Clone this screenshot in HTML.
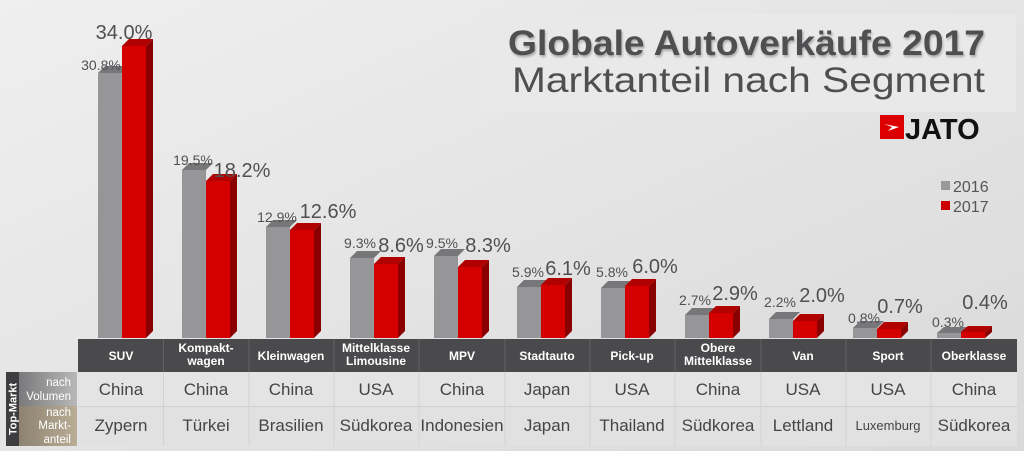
<!DOCTYPE html>
<html><head><meta charset="utf-8"><style>
body{margin:0;width:1024px;height:451px;overflow:hidden;font-family:"Liberation Sans",sans-serif}
</style></head><body>
<svg width="1024" height="451" viewBox="0 0 1024 451" xmlns="http://www.w3.org/2000/svg" font-family="Liberation Sans, sans-serif">
<defs>
<linearGradient id="bg" x1="0" y1="0" x2="1" y2="1"><stop offset="0" stop-color="#efefef"/><stop offset="1" stop-color="#d9d9d9"/></linearGradient>
<linearGradient id="vol" x1="0" y1="0" x2="1" y2="0"><stop offset="0" stop-color="#7a7a7c"/><stop offset="1" stop-color="#b8b8b8"/></linearGradient>
<linearGradient id="ma" x1="0" y1="0" x2="1" y2="0"><stop offset="0" stop-color="#8d8270"/><stop offset="1" stop-color="#b9ad96"/></linearGradient>
</defs>
<rect width="1024" height="451" fill="url(#bg)"/>
<rect x="480" y="14" width="536" height="98" fill="#e9e9e9"/>
<text x="985" y="55" text-anchor="end" font-size="35" font-weight="bold" fill="#4f4f52" textLength="477" lengthAdjust="spacingAndGlyphs" style="text-shadow:1px 2px 2px #aaa">Globale Autoverkäufe 2017</text>
<text x="985" y="92" text-anchor="end" font-size="35" fill="#4f4f52" textLength="473" lengthAdjust="spacingAndGlyphs">Marktanteil nach Segment</text>
<rect x="880" y="115" width="24" height="24" fill="#d00"/>
<polygon points="884,124 899,127 888,131 892,127" fill="#fff"/>
<text x="905" y="139" font-size="29" font-weight="bold" fill="#111">JATO</text>
<rect x="941" y="181" width="9" height="9" fill="#999"/>
<text x="953" y="192" font-size="16" fill="#555">2016</text>
<rect x="941" y="201" width="9" height="9" fill="#c00"/>
<text x="953" y="212" font-size="16" fill="#555">2017</text>

<g>
<rect x="98" y="73" width="24" height="265" fill="#969698"/><polygon points="98,73 105,66 129,66 122,73" fill="#77777a"/>
<rect x="122" y="46" width="24" height="292" fill="#d40000"/><polygon points="122,46 129,39 153,39 146,46" fill="#b00000"/><polygon points="146,46 153,39 153,331 146,338" fill="#8a0000"/>
<rect x="182" y="170" width="24" height="168" fill="#969698"/><polygon points="182,170 189,163 213,163 206,170" fill="#77777a"/>
<rect x="206" y="181" width="24" height="157" fill="#d40000"/><polygon points="206,181 213,174 237,174 230,181" fill="#b00000"/><polygon points="230,181 237,174 237,331 230,338" fill="#8a0000"/>
<rect x="266" y="227" width="24" height="111" fill="#969698"/><polygon points="266,227 273,220 297,220 290,227" fill="#77777a"/>
<rect x="290" y="230" width="24" height="108" fill="#d40000"/><polygon points="290,230 297,223 321,223 314,230" fill="#b00000"/><polygon points="314,230 321,223 321,331 314,338" fill="#8a0000"/>
<rect x="350" y="258" width="24" height="80" fill="#969698"/><polygon points="350,258 357,251 381,251 374,258" fill="#77777a"/>
<rect x="374" y="264" width="24" height="74" fill="#d40000"/><polygon points="374,264 381,257 405,257 398,264" fill="#b00000"/><polygon points="398,264 405,257 405,331 398,338" fill="#8a0000"/>
<rect x="434" y="256" width="24" height="82" fill="#969698"/><polygon points="434,256 441,249 465,249 458,256" fill="#77777a"/>
<rect x="458" y="267" width="24" height="71" fill="#d40000"/><polygon points="458,267 465,260 489,260 482,267" fill="#b00000"/><polygon points="482,267 489,260 489,331 482,338" fill="#8a0000"/>
<rect x="517" y="287" width="24" height="51" fill="#969698"/><polygon points="517,287 524,280 548,280 541,287" fill="#77777a"/>
<rect x="541" y="285" width="24" height="53" fill="#d40000"/><polygon points="541,285 548,278 572,278 565,285" fill="#b00000"/><polygon points="565,285 572,278 572,331 565,338" fill="#8a0000"/>
<rect x="601" y="288" width="24" height="50" fill="#969698"/><polygon points="601,288 608,281 632,281 625,288" fill="#77777a"/>
<rect x="625" y="286" width="24" height="52" fill="#d40000"/><polygon points="625,286 632,279 656,279 649,286" fill="#b00000"/><polygon points="649,286 656,279 656,331 649,338" fill="#8a0000"/>
<rect x="685" y="315" width="24" height="23" fill="#969698"/><polygon points="685,315 692,308 716,308 709,315" fill="#77777a"/>
<rect x="709" y="313" width="24" height="25" fill="#d40000"/><polygon points="709,313 716,306 740,306 733,313" fill="#b00000"/><polygon points="733,313 740,306 740,331 733,338" fill="#8a0000"/>
<rect x="769" y="319" width="24" height="19" fill="#969698"/><polygon points="769,319 776,312 800,312 793,319" fill="#77777a"/>
<rect x="793" y="321" width="24" height="17" fill="#d40000"/><polygon points="793,321 800,314 824,314 817,321" fill="#b00000"/><polygon points="817,321 824,314 824,331 817,338" fill="#8a0000"/>
<rect x="853" y="328" width="24" height="10" fill="#969698"/><polygon points="853,328 860,321 884,321 877,328" fill="#77777a"/>
<rect x="877" y="329" width="24" height="9" fill="#d40000"/><polygon points="877,329 884,322 908,322 901,329" fill="#b00000"/><polygon points="901,329 908,322 908,331 901,338" fill="#8a0000"/>
<rect x="937" y="333" width="24" height="5" fill="#969698"/><polygon points="937,333 944,327 968,327 961,333" fill="#77777a"/>
<rect x="961" y="332" width="24" height="6" fill="#d40000"/><polygon points="961,332 968,326 992,326 985,332" fill="#b00000"/><polygon points="985,332 992,326 992,332 985,338" fill="#8a0000"/>
</g>

<g fill="#505052" text-anchor="middle">
<g font-size="14">
<text x="101" y="70">30.8%</text>
<text x="193" y="165">19.5%</text>
<text x="277" y="222">12.9%</text>
<text x="360" y="248">9.3%</text>
<text x="442" y="248">9.5%</text>
<text x="528" y="277">5.9%</text>
<text x="612" y="277">5.8%</text>
<text x="695" y="305">2.7%</text>
<text x="780" y="307">2.2%</text>
<text x="864" y="323">0.8%</text>
<text x="948" y="327">0.3%</text>
</g>
<g font-size="20">
<text x="124" y="39">34.0%</text>
<text x="242" y="177">18.2%</text>
<text x="328" y="218">12.6%</text>
<text x="401" y="252">8.6%</text>
<text x="488" y="252">8.3%</text>
<text x="568" y="275">6.1%</text>
<text x="655" y="273">6.0%</text>
<text x="735" y="300">2.9%</text>
<text x="822" y="302">2.0%</text>
<text x="900" y="313">0.7%</text>
<text x="985" y="309">0.4%</text>
</g>
</g>

<rect x="78" y="339" width="939" height="33" fill="#4a4a4d"/>
<rect x="78" y="372" width="939" height="34" fill="#e4e4e4"/>
<rect x="78" y="407" width="939" height="39" fill="#e1e1e1"/>
<line x1="78" y1="406.5" x2="1017" y2="406.5" stroke="#cfcfcf"/>
<g stroke="#626265"><line x1="163.5" y1="339" x2="163.5" y2="372"/><line x1="249" y1="339" x2="249" y2="372"/><line x1="334" y1="339" x2="334" y2="372"/><line x1="419" y1="339" x2="419" y2="372"/><line x1="505" y1="339" x2="505" y2="372"/><line x1="590" y1="339" x2="590" y2="372"/><line x1="675" y1="339" x2="675" y2="372"/><line x1="761" y1="339" x2="761" y2="372"/><line x1="846" y1="339" x2="846" y2="372"/><line x1="931" y1="339" x2="931" y2="372"/></g>
<g stroke="#d2d2d2"><line x1="163.5" y1="372" x2="163.5" y2="446"/><line x1="249" y1="372" x2="249" y2="446"/><line x1="334" y1="372" x2="334" y2="446"/><line x1="419" y1="372" x2="419" y2="446"/><line x1="505" y1="372" x2="505" y2="446"/><line x1="590" y1="372" x2="590" y2="446"/><line x1="675" y1="372" x2="675" y2="446"/><line x1="761" y1="372" x2="761" y2="446"/><line x1="846" y1="372" x2="846" y2="446"/><line x1="931" y1="372" x2="931" y2="446"/></g>

<g fill="#fff" font-size="12" font-weight="bold" text-anchor="middle">
<text x="121" y="360">SUV</text>
<text x="206" y="352">Kompakt-</text><text x="206" y="365">wagen</text>
<text x="291" y="360">Kleinwagen</text>
<text x="376" y="352">Mittelklasse</text><text x="376" y="365">Limousine</text>
<text x="462" y="360">MPV</text>
<text x="547" y="360">Stadtauto</text>
<text x="632" y="360">Pick-up</text>
<text x="718" y="352">Obere</text><text x="718" y="365">Mittelklasse</text>
<text x="803" y="360">Van</text>
<text x="888" y="360">Sport</text>
<text x="974" y="360">Oberklasse</text>
</g>
<g fill="#454547" font-size="17" text-anchor="middle">
<text x="121" y="395">China</text><text x="206" y="395">China</text><text x="291" y="395">China</text><text x="376" y="395">USA</text><text x="462" y="395">China</text><text x="547" y="395">Japan</text><text x="632" y="395">USA</text><text x="718" y="395">China</text><text x="803" y="395">USA</text><text x="888" y="395">USA</text><text x="974" y="395">China</text>
<text x="121" y="431">Zypern</text><text x="206" y="431">Türkei</text><text x="291" y="431">Brasilien</text><text x="376" y="431">Südkorea</text><text x="462" y="431">Indonesien</text><text x="547" y="431">Japan</text><text x="632" y="431">Thailand</text><text x="718" y="431">Südkorea</text><text x="803" y="431">Lettland</text><text x="888" y="430" font-size="13">Luxemburg</text><text x="974" y="431">Südkorea</text>
</g>

<rect x="6" y="372" width="13" height="74" fill="#3e3e41"/>
<text transform="translate(16.5,409) rotate(-90)" text-anchor="middle" fill="#fff" font-size="11" font-weight="bold">Top-Markt</text>
<rect x="19" y="372" width="58" height="34" fill="url(#vol)"/>
<rect x="19" y="406" width="58" height="40" fill="url(#ma)"/>
<g fill="#fff" font-size="11.5" text-anchor="end">
<text x="71" y="386">nach</text><text x="71" y="400">Volumen</text>
<text x="71" y="416">nach</text><text x="71" y="429">Markt-</text><text x="71" y="443">anteil</text>
</g>
</svg>
</body></html>
